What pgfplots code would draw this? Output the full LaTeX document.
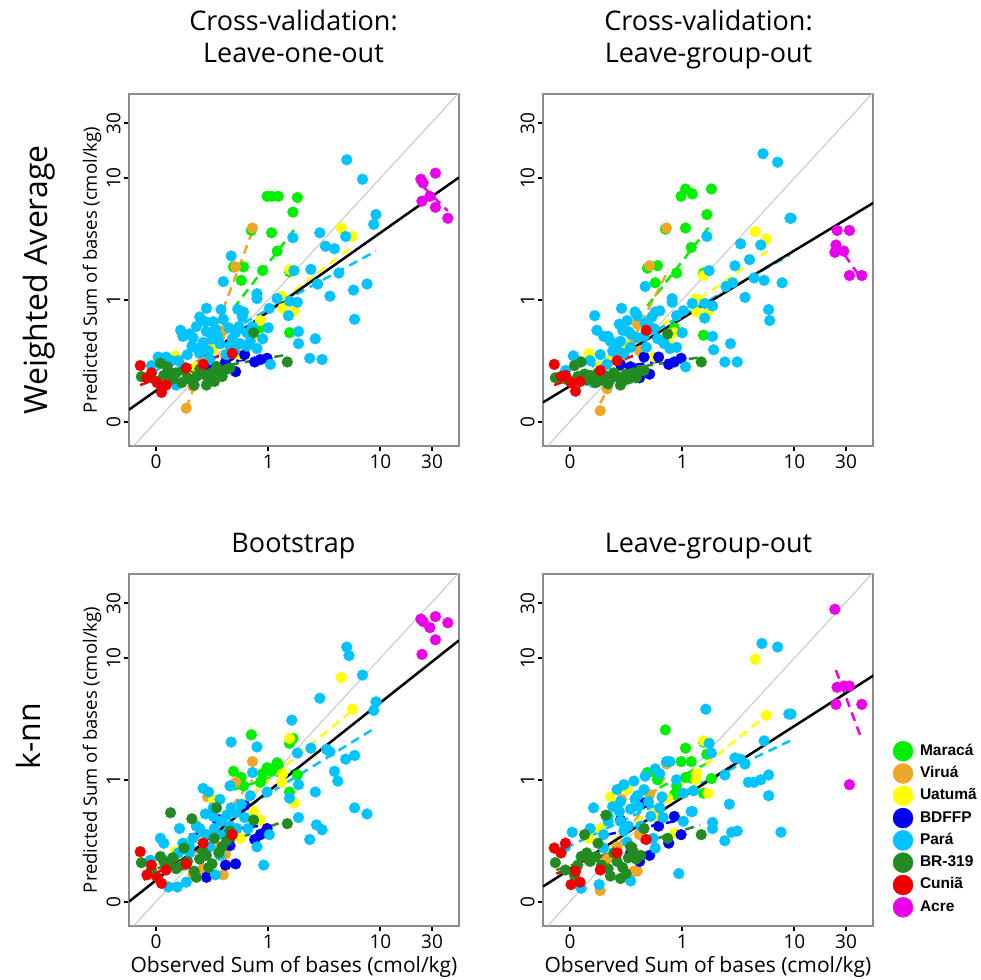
\documentclass[border=0pt]{standalone}
\usepackage{pgfplots}
\pgfplotsset{compat=1.18}
\usepackage{pgfplotstable}
\usepackage{fontspec}
\setmainfont{Open Sans}
\newfontfamily\legfont{Liberation Sans}

\definecolor{cMar}{RGB}{0,240,0}
\definecolor{cVir}{RGB}{238,168,40}
\definecolor{cUat}{RGB}{255,255,0}
\definecolor{cBDF}{RGB}{0,0,240}
\definecolor{cPar}{RGB}{0,195,255}
\definecolor{cBR}{RGB}{34,139,34}
\definecolor{cCun}{RGB}{240,0,0}
\definecolor{cAcr}{RGB}{235,0,235}
\definecolor{frame}{RGB}{140,140,140}

% axis units: 0 -> 0, 1 -> 1, 10 -> 2, 30 -> 2.46
% columns: a = WA leave-one-out, b = WA leave-group-out, c = knn bootstrap, d = knn leave-group-out
\pgfplotstableread{
x a b c d
0.69 1.27 1.26 1.07 1.06
0.76 1.16 1.14 1.02 1.06
0.78 1.27 1.28 0.95 1.00
0.85 1.57 1.58 1.37 1.41
0.93 0.77 0.77 0.98 0.88
0.95 1.24 1.22 1.05 0.95
0.99 1.85 1.85 1.10 1.15
1.03 1.85 1.59 1.09 1.26
1.03 1.55 1.91 1.07 1.02
1.08 1.40 1.43 1.14 1.15
1.09 1.85 1.87 1.12 1.01
1.19 1.23 1.22 1.30 1.31
1.19 0.73 0.71 0.90 0.89
1.22 1.72 1.70 1.34 1.21
1.26 1.84 1.91 1.04 1.01
}\tMar
\pgfplotstableread{
x a b c d
0.27 0.11 0.09 0.30 0.09
0.33 0.29 0.27 0.22 0.35
0.42 0.50 0.52 0.27 0.45
0.46 0.62 0.60 0.86 0.84
0.57 0.70 0.68 0.45 0.25
0.60 0.75 0.80 0.22 0.25
0.62 0.55 0.58 0.39 0.55
0.71 1.27 1.28 0.98 0.88
0.86 1.59 1.59 1.15 1.13
}\tVir
\pgfplotstableread{
x a b c d
0.17 0.54 0.56 0.41 0.52
0.27 0.43 0.45 0.48 0.60
0.36 0.45 0.50 0.63 0.86
0.51 0.59 0.62 0.84 0.92
0.75 0.55 0.53 0.52 0.70
0.87 0.70 0.66 0.74 0.85
0.93 0.83 0.73 0.67 0.56
1.12 1.03 1.01 0.98 1.00
1.13 0.93 0.90 1.05 1.05
1.19 1.25 1.20 1.34 1.32
1.23 0.91 0.90 0.81 0.89
1.65 1.59 1.56 1.84 1.99
1.75 1.52 1.50 1.58 1.53
}\tUat
\pgfplotstableread{
x a b c d
0.45 0.47 0.47 0.20 0.67
0.54 0.45 0.45 0.68 0.40
0.62 0.49 0.36 0.30 0.33
0.66 0.54 0.53 0.46 0.81
0.71 0.41 0.39 0.31 0.38
0.79 0.55 0.53 0.79 0.62
0.88 0.49 0.47 0.51 0.48
0.93 0.51 0.49 0.55 0.70
0.99 0.52 0.52 0.60 0.55
}\tBDF
\pgfplotstableread{
x a b c d
-0.13 0.37 0.36 0.32 0.32
-0.04 0.36 0.35 0.26 0.26
0.04 0.48 0.46 0.37 0.22
0.07 0.38 0.37 0.33 0.30
0.10 0.45 0.49 0.31 0.37
0.13 0.40 0.39 0.73 0.55
0.15 0.35 0.34 0.36 0.40
0.18 0.40 0.38 0.27 0.33
0.23 0.32 0.32 0.30 0.37
0.25 0.42 0.40 0.44 0.48
0.28 0.36 0.34 0.33 0.30
0.32 0.34 0.36 0.68 0.71
0.34 0.30 0.31 0.25 0.27
0.36 0.37 0.35 0.20 0.21
0.39 0.43 0.40 0.35 0.40
0.42 0.39 0.37 0.41 0.33
0.45 0.30 0.30 0.38 0.19
0.47 0.35 0.33 0.28 0.28
0.50 0.40 0.39 0.31 0.23
0.52 0.33 0.35 0.52 0.36
0.54 0.45 0.36 0.77 0.45
0.56 0.41 0.40 0.40 0.42
0.59 0.37 0.36 0.45 0.35
0.63 0.43 0.42 0.50 0.38
0.66 0.44 0.42 0.58 0.60
0.87 0.73 0.72 0.67 0.52
1.17 0.49 0.49 0.64 0.55
}\tBR
\pgfplotstableread{
x a b c d
-0.14 0.46 0.47 0.41 0.44
-0.08 0.36 0.37 0.22 0.40
-0.04 0.40 0.38 0.30 0.48
0.01 0.32 0.32 0.20 0.14
0.05 0.24 0.25 0.15 0.25
0.09 0.30 0.33 0.26 0.16
0.27 0.44 0.42 0.31 0.26
0.42 0.47 0.50 0.48 0.40
0.68 0.56 0.75 0.55 0.51
}\tCun
\pgfplotstableread{
x a b c d
2.36 1.99 1.39 2.32 2.40
2.37 1.81 1.45 2.03 1.62
2.38 1.96 1.57 2.30 1.76
2.44 1.85 1.40 2.25 1.77
2.49 2.04 1.57 2.34 1.77
2.49 1.76 1.20 2.15 0.96
2.60 1.67 1.20 2.29 1.62
}\tAcr

% Para, one table per panel
\pgfplotstableread{
x y
1.70 2.15
1.84 1.99
1.96 1.70
1.94 1.62
1.46 1.55
1.69 1.52
1.51 1.44
1.59 1.42
1.63 1.22
1.38 1.25
1.44 1.13
1.55 1.03
1.88 1.13
1.76 1.08
1.77 0.84
1.22 1.51
1.23 1.24
1.08 1.01
1.19 0.99
1.26 0.98
1.18 0.87
1.27 0.74
1.27 0.64
1.42 0.68
1.37 0.52
1.48 0.51
1.02 0.47
1.00 0.77
0.95 0.68
0.90 0.60
0.67 1.36
0.60 1.15
0.90 1.05
0.90 1.01
1.01 0.93
0.73 0.92
0.78 0.90
0.77 0.86
0.45 0.93
0.39 0.86
0.51 0.82
0.60 0.84
0.22 0.75
0.24 0.70
0.33 0.69
0.45 0.74
0.65 0.77
0.71 0.73
0.81 0.73
0.32 0.62
0.39 0.56
0.57 0.64
0.66 0.62
0.75 0.64
0.81 0.62
0.02 0.53
0.09 0.53
-0.04 0.46
0.18 0.30
0.24 0.45
0.48 0.51
0.55 0.70
0.42 0.65
0.36 0.78
0.50 0.68
0.63 0.55
0.70 0.58
0.28 0.55
0.86 0.78
0.14 0.50
0.30 0.72
0.37 0.60
0.44 0.82
0.53 0.76
0.58 0.92
0.68 0.68
0.74 0.78
0.84 0.66
0.20 0.50
0.47 0.58
}\tParA
\pgfplotstableread{
x y
1.72 2.20
1.85 2.13
1.96 1.67
1.97 1.67
1.52 1.46
1.70 1.45
1.60 1.33
1.47 1.28
1.64 1.18
1.73 1.16
1.89 1.14
1.39 1.11
1.45 1.14
1.56 1.02
1.77 0.92
1.78 0.83
1.22 1.52
1.24 1.24
1.09 0.97
1.20 0.97
1.27 0.95
1.20 0.85
1.27 0.70
1.28 0.59
1.43 0.64
1.38 0.49
1.49 0.49
1.03 0.45
1.00 0.73
0.95 0.61
0.89 0.60
0.67 1.11
0.91 1.01
0.91 0.98
1.01 0.91
0.76 0.90
0.80 0.91
0.46 0.93
0.22 0.87
0.24 0.75
0.34 0.70
0.47 0.75
0.51 0.83
0.60 0.87
0.67 0.81
0.73 0.77
0.78 0.68
0.36 0.66
0.27 0.55
0.42 0.59
0.54 0.61
0.03 0.54
0.09 0.49
-0.04 0.42
0.21 0.32
0.40 0.64
0.60 0.69
0.54 0.72
0.73 0.86
0.68 0.61
0.83 0.66
0.95 0.87
0.33 0.47
0.45 0.66
0.30 0.70
0.38 0.58
0.44 0.80
0.52 0.74
0.58 0.90
0.66 0.70
0.75 0.76
0.84 0.64
0.18 0.50
0.48 0.56
}\tParB
\pgfplotstableread{
x y
1.70 2.09
1.72 2.02
1.84 1.86
1.46 1.67
1.96 1.64
1.94 1.57
1.21 1.49
1.38 1.26
1.52 1.25
1.55 1.23
1.69 1.17
1.77 1.20
1.59 1.07
1.62 0.99
1.26 1.22
1.27 0.96
1.42 0.90
1.19 0.85
1.27 0.69
1.43 0.63
1.48 0.59
1.37 0.51
1.77 0.77
1.88 0.72
0.67 1.31
0.90 1.27
0.86 1.06
0.66 0.95
0.99 0.90
1.01 0.55
0.96 0.30
0.90 0.45
0.42 0.93
0.47 0.90
0.57 0.84
0.67 0.77
0.79 0.69
0.71 0.73
0.51 0.70
0.39 0.60
0.45 0.55
0.60 0.55
0.72 0.60
0.21 0.60
0.04 0.52
0.07 0.48
-0.05 0.34
0.11 0.12
0.19 0.12
0.27 0.16
0.53 0.22
0.24 0.48
0.30 0.40
0.57 0.38
0.63 0.71
0.51 0.77
0.84 0.87
0.33 0.52
0.30 0.45
0.36 0.62
0.44 0.72
0.52 0.60
0.58 0.66
0.66 0.62
0.76 0.80
0.82 0.60
0.20 0.40
0.48 0.45
}\tParC
\pgfplotstableread{
x y
1.71 2.12
1.85 2.09
1.95 1.54
1.97 1.54
1.21 1.58
1.73 1.32
1.24 1.30
1.26 1.22
1.47 1.18
1.52 1.17
1.56 1.13
1.38 1.04
1.59 0.98
1.64 0.98
1.70 1.00
1.77 1.04
1.77 0.87
1.42 0.80
1.27 0.65
1.27 0.60
1.44 0.57
1.49 0.58
1.38 0.50
1.88 0.57
0.97 0.23
1.08 0.74
1.01 0.66
0.95 1.00
1.01 0.89
0.89 1.15
0.86 1.15
0.80 1.05
0.76 1.09
0.67 1.03
0.57 0.99
0.42 0.92
0.48 0.96
0.21 0.77
0.34 0.70
0.34 0.66
0.45 0.66
0.54 0.76
0.60 0.87
0.70 0.82
0.80 0.77
0.83 0.69
0.63 0.62
0.74 0.52
0.02 0.57
-0.04 0.45
0.10 0.11
0.26 0.14
0.54 0.17
0.30 0.44
0.51 0.49
0.76 0.44
1.09 0.74
1.10 0.91
0.61 0.78
0.45 0.82
0.30 0.55
0.38 0.78
0.44 0.74
0.52 0.62
0.58 0.84
0.66 0.92
0.72 0.70
0.82 0.86
0.18 0.60
0.48 0.58
}\tParD

\pgfplotsset{
  panel/.style={
    width=330pt, height=352pt, scale only axis,
    xmin=-0.24, xmax=2.70, ymin=-0.20, ymax=2.69,
    xtick={0,1,2,2.46}, xticklabels={0,1,10,30},
    ytick={0,1,2,2.45}, yticklabels={0,1,10,30},
    tick align=outside, tick pos=left,
    major tick length=5pt,
    tick style={black, line width=2pt},
    axis line style={draw=frame, line width=1.5pt},
    /pgf/number format/assume math mode=true,
    ticklabel style={font=\fontsize{19}{19}\selectfont},
    yticklabel style={rotate=90, anchor=south},
    xlabel style={at={(axis description cs:0.5,-0.131)}, anchor=base,
      font=\fontsize{21}{21}\selectfont},
    ylabel style={at={(axis description cs:-0.097,0.5)}, anchor=base,
      font=\fontsize{18.5}{18.5}\selectfont},
  },
  pt/.style={only marks, mark=*, mark size=5.4pt, color=#1,
    mark options={draw=none, fill=#1}},
  reg/.style={color=#1, line width=2.5pt, dash pattern=on 9pt off 6pt, forget plot},
  diag/.style={color=black!22, line width=1pt, forget plot},
  fit/.style={color=black, line width=2.5pt, forget plot},
}

\begin{document}
\begin{tikzpicture}
\useasboundingbox (0,0) rectangle (980pt,980pt);

% titles and row labels
\node[anchor=base, font=\fontsize{27}{27}\selectfont] at (293.5pt,949pt) {Cross-validation:};
\node[anchor=base, font=\fontsize{27}{27}\selectfont] at (293.5pt,917pt) {Leave-one-out};
\node[anchor=base, font=\fontsize{27}{27}\selectfont] at (708.5pt,949pt) {Cross-validation:};
\node[anchor=base, font=\fontsize{27}{27}\selectfont] at (708.5pt,917pt) {Leave-group-out};
\node[anchor=base, font=\fontsize{27}{27}\selectfont] at (293.5pt,427pt) {Bootstrap};
\node[anchor=base, font=\fontsize{27}{27}\selectfont] at (708.5pt,427pt) {Leave-group-out};
\node[anchor=base, rotate=90, font=\fontsize{32}{32}\selectfont] at (47pt,700pt) {Weighted Average};
\node[anchor=base, rotate=90, font=\fontsize{32}{32}\selectfont] at (40pt,244pt) {k-nn};

% Weighted average, leave-one-out
\begin{axis}[panel, at={(129pt,534pt)}, anchor=south west,
  ylabel={Predicted Sum of bases (cmol/kg)}]
\addplot[diag] coordinates {(-0.3,-0.3) (2.8,2.8)};
\addplot[pt=cMar] table[x=x,y=a] {\tMar};
\addplot[pt=cVir] table[x=x,y=a] {\tVir};
\addplot[pt=cUat] table[x=x,y=a] {\tUat};
\addplot[pt=cBDF] table[x=x,y=a] {\tBDF};
\addplot[pt=cPar] table[x=x,y=y] {\tParA};
\addplot[pt=cBR] table[x=x,y=a] {\tBR};
\addplot[pt=cCun] table[x=x,y=a] {\tCun};
\addplot[pt=cAcr] table[x=x,y=a] {\tAcr};
\addplot[reg=cMar] coordinates {(0.69,0.93) (1.26,1.61)};
\addplot[reg=cVir] coordinates {(0.27,0.11) (0.87,1.59)};
\addplot[reg=cUat] coordinates {(0.17,0.32) (1.75,1.44)};
\addplot[reg=cBDF] coordinates {(0.45,0.47) (0.99,0.53)};
\addplot[reg=cPar] coordinates {(-0.04,0.40) (1.96,1.40)};
\addplot[reg=cBR] coordinates {(-0.13,0.34) (1.17,0.55)};
\addplot[reg=cCun] coordinates {(-0.14,0.30) (0.68,0.58)};
\addplot[reg=cAcr] coordinates {(2.38,1.93) (2.60,1.73)};
\addplot[fit] coordinates {(-0.24,0.098) (2.70,2.005)};
\end{axis}

% Weighted average, leave-group-out
\begin{axis}[panel, at={(543pt,534pt)}, anchor=south west]
\addplot[diag] coordinates {(-0.3,-0.3) (2.8,2.8)};
\addplot[pt=cMar] table[x=x,y=b] {\tMar};
\addplot[pt=cVir] table[x=x,y=b] {\tVir};
\addplot[pt=cUat] table[x=x,y=b] {\tUat};
\addplot[pt=cBDF] table[x=x,y=b] {\tBDF};
\addplot[pt=cPar] table[x=x,y=y] {\tParB};
\addplot[pt=cBR] table[x=x,y=b] {\tBR};
\addplot[pt=cCun] table[x=x,y=b] {\tCun};
\addplot[pt=cAcr] table[x=x,y=b] {\tAcr};
\addplot[reg=cMar] coordinates {(0.69,0.95) (1.24,1.60)};
\addplot[reg=cVir] coordinates {(0.27,0.15) (0.88,1.25)};
\addplot[reg=cUat] coordinates {(0.17,0.37) (1.76,1.40)};
\addplot[reg=cBDF] coordinates {(0.45,0.45) (1.00,0.52)};
\addplot[reg=cPar] coordinates {(-0.04,0.33) (1.96,1.37)};
\addplot[reg=cBR] coordinates {(-0.13,0.34) (1.17,0.53)};
\addplot[reg=cCun] coordinates {(-0.14,0.30) (0.68,0.58)};
\addplot[reg=cAcr] coordinates {(2.37,1.47) (2.59,1.18)};
\addplot[fit] coordinates {(-0.24,0.158) (2.71,1.80)};
\end{axis}

% k-nn, bootstrap
\begin{axis}[panel, at={(129pt,54pt)}, anchor=south west,
  xlabel={Observed Sum of bases (cmol/kg)},
  ylabel={Predicted Sum of bases (cmol/kg)}]
\addplot[diag] coordinates {(-0.3,-0.3) (2.8,2.8)};
\addplot[pt=cMar] table[x=x,y=c] {\tMar};
\addplot[pt=cVir] table[x=x,y=c] {\tVir};
\addplot[pt=cUat] table[x=x,y=c] {\tUat};
\addplot[pt=cBDF] table[x=x,y=c] {\tBDF};
\addplot[pt=cPar] table[x=x,y=y] {\tParC};
\addplot[pt=cBR] table[x=x,y=c] {\tBR};
\addplot[pt=cCun] table[x=x,y=c] {\tCun};
\addplot[pt=cAcr] table[x=x,y=c] {\tAcr};
\addplot[reg=cMar] coordinates {(0.69,0.92) (1.27,1.09)};
\addplot[reg=cVir] coordinates {(0.27,0.30) (0.86,1.00)};
\addplot[reg=cUat] coordinates {(0.13,0.33) (1.76,1.58)};
\addplot[reg=cBDF] coordinates {(0.30,0.55) (0.99,0.63)};
\addplot[reg=cPar] coordinates {(-0.08,0.27) (1.96,1.43)};
\addplot[reg=cBR] coordinates {(-0.11,0.23) (1.17,0.67)};
\addplot[reg=cCun] coordinates {(-0.11,0.18) (0.60,0.53)};
\addplot[fit] coordinates {(-0.24,0.0) (2.70,2.145)};
\end{axis}

% k-nn, leave-group-out
\begin{axis}[panel, at={(543pt,54pt)}, anchor=south west,
  xlabel={Observed Sum of bases (cmol/kg)},
  legend entries={Maracá,Viruá,Uatumã,BDFFP,Pará,BR-319,Cuniã,Acre},
  legend cell align=left,
  legend image code/.code={\draw[#1,mark size=10pt] plot coordinates {(10pt,0pt)};},
  legend style={at={(axis description cs:1.06,0.5256)}, anchor=north west,
    draw=none, fill=none, inner sep=0pt, row sep=2.3pt,
    font=\legfont\bfseries\fontsize{15.5}{15.5}\selectfont,
    nodes={inner sep=1pt, text height=11pt, text depth=3pt},
    /tikz/every odd column/.style={column sep=6pt}}]
\addplot[diag] coordinates {(-0.3,-0.3) (2.8,2.8)};
\addplot[pt=cMar] table[x=x,y=d] {\tMar};
\addplot[pt=cVir] table[x=x,y=d] {\tVir};
\addplot[pt=cUat] table[x=x,y=d] {\tUat};
\addplot[pt=cBDF] table[x=x,y=d] {\tBDF};
\addplot[pt=cPar] table[x=x,y=y] {\tParD};
\addplot[pt=cBR] table[x=x,y=d] {\tBR};
\addplot[pt=cCun] table[x=x,y=d] {\tCun};
\addplot[pt=cAcr] table[x=x,y=d] {\tAcr};
\addplot[reg=cMar] coordinates {(0.68,0.88) (1.25,1.15)};
\addplot[reg=cVir] coordinates {(0.27,0.25) (0.86,1.04)};
\addplot[reg=cUat] coordinates {(0.17,0.34) (1.76,1.54)};
\addplot[reg=cBDF] coordinates {(0.33,0.55) (0.99,0.67)};
\addplot[reg=cPar] coordinates {(-0.04,0.44) (1.96,1.32)};
\addplot[reg=cBR] coordinates {(-0.12,0.26) (1.16,0.63)};
\addplot[reg=cCun] coordinates {(-0.12,0.23) (0.68,0.51)};
\addplot[reg=cAcr] coordinates {(2.37,1.90) (2.60,1.33)};
\addplot[fit] coordinates {(-0.24,0.124) (2.71,1.86)};
\end{axis}
\end{tikzpicture}
\end{document}
